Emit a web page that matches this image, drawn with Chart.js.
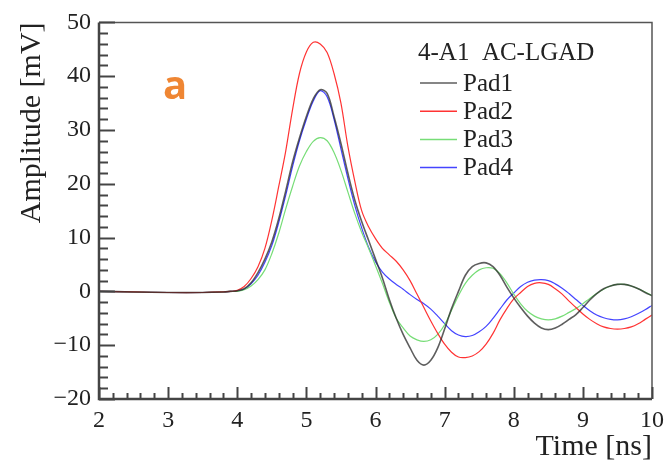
<!DOCTYPE html>
<html>
<head>
<meta charset="utf-8">
<script src="https://cdn.jsdelivr.net/npm/chart.js@4.4.1/dist/chart.umd.min.js"></script>
<style>
  html, body { margin: 0; padding: 0; background: #fff; }
  #wrap { width: 671px; height: 465px; }
</style>
</head>
<body>
<div id="wrap"><canvas id="chart" width="671" height="465"></canvas></div>
<script>
// time axis (ns), shared by all pads
const timeNs = [2.0, 2.5, 3.0, 3.5, 3.8, 3.9,
  4.0, 4.1, 4.2, 4.3, 4.4, 4.5, 4.6, 4.7, 4.8, 4.9,
  5.0, 5.1, 5.2, 5.3, 5.4, 5.5, 5.6, 5.7, 5.8, 5.9,
  6.0, 6.1, 6.2, 6.3, 6.4, 6.5, 6.6, 6.7, 6.8, 6.9,
  7.0, 7.1, 7.2, 7.3, 7.4, 7.5, 7.6, 7.7, 7.8, 7.9,
  8.0, 8.1, 8.2, 8.3, 8.4, 8.5, 8.6, 8.7, 8.8, 8.9,
  9.0, 9.1, 9.2, 9.3, 9.4, 9.5, 9.6, 9.7, 9.8, 9.9, 10.0];

// amplitudes in mV
const pad1 = [0.0, -0.1, -0.2, -0.2, -0.1, 0.0,
  0.1, 0.5, 1.6, 3.5, 6.0, 9.2, 13.5, 18.6, 24.0, 28.5,
  32.5, 35.8, 37.5, 36.8, 32.5, 27.5, 22.0, 17.0, 13.0, 9.5,
  6.0, 2.5, -1.5, -5.0, -8.0, -10.5, -12.8, -13.7, -12.8, -10.5,
  -7.0, -3.2, 0.0, 3.0, 4.6, 5.2, 5.3, 4.6, 3.0, 0.8,
  -1.2, -3.0, -4.6, -5.9, -6.8, -7.1, -6.8, -6.1, -5.2, -4.3,
  -3.0, -1.6, -0.4, 0.5, 1.0, 1.3, 1.3, 1.0, 0.5, -0.2, -0.8];

const pad2 = [0.0, -0.1, -0.2, -0.2, -0.1, 0.0,
  0.2, 0.9, 2.4, 4.6, 8.0, 13.2, 19.5, 26.0, 33.8, 40.5,
  44.5, 46.3, 46.0, 44.4, 40.5, 35.0, 27.0, 20.5, 15.0, 12.0,
  9.8, 8.0, 6.8, 5.6, 4.0, 2.0, -0.5, -3.0, -5.5, -7.8,
  -9.8, -11.3, -12.2, -12.3, -12.0, -11.2, -9.8, -7.8, -5.3, -3.2,
  -1.4, -0.2, 0.9, 1.5, 1.6, 1.3, 0.5, -0.5, -1.8, -3.0,
  -4.2, -5.2, -6.0, -6.6, -6.9, -7.0, -6.9, -6.6, -6.0, -5.2, -4.4];

const pad3 = [0.0, -0.1, -0.2, -0.2, -0.1, 0.0,
  0.0, 0.3, 1.0, 2.2, 4.0, 7.0, 10.8, 15.3, 19.5, 23.3,
  26.0, 27.9, 28.6, 28.0, 25.8, 22.5, 18.5, 14.5, 11.0, 8.0,
  4.8, 1.5, -2.0, -5.0, -6.8, -8.3, -9.0, -9.3, -9.0, -8.0,
  -6.2, -3.5, -0.8, 1.5, 3.0, 4.0, 4.4, 4.3, 3.3, 1.6,
  -0.5, -2.3, -3.7, -4.6, -5.1, -5.3, -5.1, -4.6, -3.9, -3.2,
  -2.3, -1.3, -0.4, 0.4, 1.0, 1.3, 1.3, 1.0, 0.5, -0.1, -0.8];

const pad4 = [0.0, -0.1, -0.2, -0.2, -0.1, 0.0,
  0.1, 0.4, 1.4, 3.0, 5.4, 8.5, 12.8, 17.8, 23.2, 28.0,
  32.0, 35.4, 37.3, 36.2, 32.0, 26.5, 21.0, 16.0, 11.8, 8.2,
  5.5, 3.6, 2.3, 1.3, 0.4, -0.6, -1.5, -2.3, -3.3, -4.6,
  -6.0, -7.3, -8.1, -8.4, -8.2, -7.5, -6.5, -5.0, -3.3, -1.6,
  -0.3, 0.9, 1.7, 2.1, 2.2, 2.0, 1.4, 0.6, -0.4, -1.5,
  -2.6, -3.6, -4.4, -4.9, -5.2, -5.3, -5.1, -4.7, -4.1, -3.4, -2.6];

const padNames = ['Pad1', 'Pad2', 'Pad3', 'Pad4'];
const padColors = ['rgba(40,40,40,0.75)', '#ff3333', '#77dd77', '#4444ff'];
const legendTitle = '4-A1  AC-LGAD';

const serif = '"Liberation Serif", "DejaVu Serif", serif';

function toPoints(vals) {
  return timeNs.map((t, i) => ({ x: t, y: vals[i] }));
}

// ROOT style frame, inward ticks, legend and panel label
const rootFrame = {
  id: 'rootFrame',
  afterDraw(chart) {
    const ctx = chart.ctx;
    const a = chart.chartArea;
    const xs = chart.scales.x;
    const ys = chart.scales.y;
    ctx.save();

    // frame
    ctx.strokeStyle = '#555';
    ctx.lineWidth = 1.5;
    ctx.beginPath();
    ctx.moveTo(a.left, a.top);
    ctx.lineTo(a.right, a.top);
    ctx.lineTo(a.right, a.bottom);
    ctx.stroke();
    ctx.strokeStyle = '#444';
    ctx.lineWidth = 2.5;
    ctx.beginPath();
    ctx.moveTo(a.left, a.top);
    ctx.lineTo(a.left, a.bottom);
    ctx.lineTo(a.right, a.bottom);
    ctx.stroke();

    // y ticks
    ctx.lineWidth = 2;
    for (let v = -20; v <= 50; v += 2) {
      const y = Math.round(ys.getPixelForValue(v)) + 0.5;
      const len = v % 10 === 0 ? 16 : 9;
      ctx.beginPath();
      ctx.moveTo(a.left, y);
      ctx.lineTo(a.left + len, y);
      ctx.stroke();
    }
    // x ticks
    for (let i = 0; i <= 40; i++) {
      const t = 2 + i * 0.2;
      const x = Math.round(xs.getPixelForValue(t)) + 0.5;
      const len = i % 5 === 0 ? 12 : 6;
      ctx.beginPath();
      ctx.moveTo(x, a.bottom);
      ctx.lineTo(x, a.bottom - len);
      ctx.stroke();
    }

    // legend
    ctx.fillStyle = '#222';
    ctx.font = '25px ' + serif;
    ctx.textBaseline = 'middle';
    ctx.textAlign = 'left';
    ctx.fillText(legendTitle, 418, 53);
    chart.data.datasets.forEach((ds, i) => {
      const y = 83 + i * 28.2;
      ctx.strokeStyle = ds.borderColor;
      ctx.lineWidth = 1.5;
      ctx.beginPath();
      ctx.moveTo(420, y);
      ctx.lineTo(457, y);
      ctx.stroke();
      ctx.fillStyle = '#222';
      ctx.fillText(ds.label, 463, y + 1);
    });

    // panel label
    ctx.fillStyle = '#ef8633';
    ctx.font = 'bold 40px "Open Sans", "DejaVu Sans", sans-serif';
    ctx.fillText('a', 163, 88);
    ctx.restore();
  }
};

new Chart(document.getElementById('chart'), {
  type: 'line',
  data: {
    datasets: padNames.map((name, i) => ({
      label: name,
      data: toPoints([pad1, pad2, pad3, pad4][i]),
      borderColor: padColors[i],
      borderWidth: i === 0 ? 1.6 : 1.2,
      pointRadius: 0,
      tension: 0.35,
      fill: false
    }))
  },
  options: {
    responsive: false,
    animation: false,
    layout: { padding: { left: 0, top: 14, right: 16, bottom: 0 } },
    plugins: {
      legend: { display: false },
      tooltip: { enabled: false }
    },
    scales: {
      x: {
        type: 'linear',
        min: 2,
        max: 10,
        grid: { display: false, drawTicks: false },
        border: { display: false },
        ticks: {
          stepSize: 1,
          padding: 7,
          color: '#222',
          font: { family: serif, size: 24 },
          maxRotation: 0
        },
        title: {
          display: true,
          text: 'Time [ns]',
          align: 'end',
          color: '#222',
          font: { family: serif, size: 30 },
          padding: { top: 0, bottom: 0 }
        },
        afterFit(scale) { scale.height = 66; }
      },
      y: {
        type: 'linear',
        min: -20,
        max: 50,
        grid: { display: false, drawTicks: false },
        border: { display: false },
        ticks: {
          stepSize: 10,
          padding: 8,
          color: '#222',
          font: { family: serif, size: 24 },
          callback: v => String(v).replace('-', '\u2212')
        },
        title: {
          display: true,
          text: 'Amplitude [mV]',
          align: 'end',
          color: '#222',
          font: { family: serif, size: 30 },
          padding: { top: 14, bottom: 0 }
        },
        afterFit(scale) { scale.width = 99; }
      }
    }
  },
  plugins: [rootFrame]
});
</script>
</body>
</html>
